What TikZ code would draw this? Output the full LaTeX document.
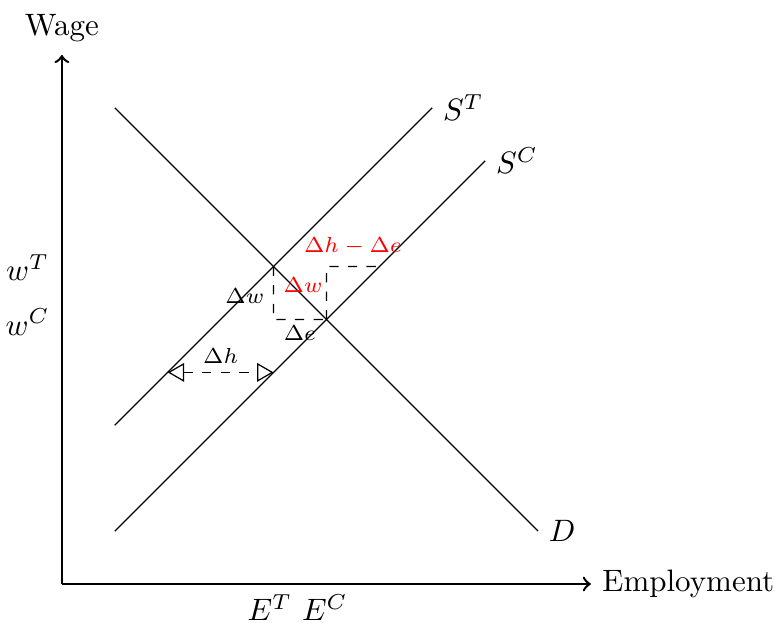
\documentclass[tikz,border=0pt]{standalone}
\usepackage{amsmath,amssymb}
\usepackage{xcolor}
\usepackage{tikz}
\usetikzlibrary{arrows,positioning,calc}
\definecolor{shiftred}{RGB}{255, 0, 0}

\begin{document}
\begin{tikzpicture}[scale=0.6]
    \useasboundingbox (-1.17,-0.72) rectangle (13.48,11.04);
    % Axes
    \draw[->,thick] (0,0) -- (10,0) node[right] (emp) {Employment};
    \draw[->,thick] (0,0) -- (0,10);
    \node (wage) at (0,10.5) {Wage};

    % Demand and supply curves
    \coordinate (eT) at (4,6);
    \coordinate (eC) at (5,5);
    \draw (1,9) -- (9,1) node[right] (dem) {$D$};
    \draw (1,3) -- (7,9) node[right] (supT) {$S^T$};
    \draw (1,1) -- (8,8) node[right] (supC) {$S^C$};

    % Shifts between the two equilibria
    \draw[dashed] (eT) -- (4,5) -- (eC);
    \draw[dashed] (eC) -- (5,6) -- (6,6);
    \node[font=\scriptsize] (dw) at (3.46,5.44) {$\Delta w$};
    \node[font=\scriptsize] (de) at (4.5,4.74) {$\Delta e$};
    \node[shiftred,font=\scriptsize] (dwr) at (4.56,5.65) {$\Delta w$};
    \node[shiftred,font=\scriptsize] (dhe) at (5.5,6.39) {$\Delta h - \Delta e$};

    \coordinate (hT) at (2,4);
    \coordinate (hC) at (4,4);
    \draw[dashed,open triangle 60-open triangle 60] (hT) -- (hC);
    \node[font=\scriptsize] (dh) at (3,4.31) {$\Delta h$};

    % Equilibrium values
    \node (wT) at (-0.65,5.98) {$w^T$};
    \node (wC) at (-0.65,4.95) {$w^C$};
    \node[inner sep=1pt] (ET) at (3.93,-0.45) {$E^T$};
    \node[inner sep=1pt] (EC) at (4.97,-0.45) {$E^C$};
\end{tikzpicture}
\end{document}
